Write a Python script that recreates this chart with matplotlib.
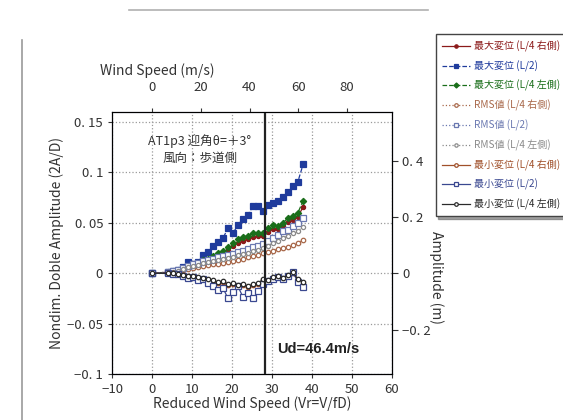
import numpy as np
import matplotlib
matplotlib.use("Agg")
import matplotlib.pyplot as plt
from matplotlib.lines import Line2D

plt.rcParams['font.family'] = ['Noto Sans CJK JP', 'DejaVu Sans']

# reduced wind speed Vr
vr = [0, 4.0, 5.3, 6.5, 7.8, 9.0, 10.3, 11.5, 12.8, 14.0, 15.3, 16.5, 17.8, 19.0, 20.3,
      21.5, 22.8, 24.0, 25.3, 26.5, 27.8, 29.0, 30.3, 31.5, 32.8, 34.0, 35.3, 36.5, 37.8]

max_r = [0, 0.001, 0.001, 0.002, 0.003, 0.005, 0.006, 0.008, 0.011, 0.012, 0.015, 0.018, 0.020,
         0.023, 0.027, 0.030, 0.032, 0.034, 0.036, 0.037, 0.037, 0.041, 0.044, 0.044, 0.047,
         0.051, 0.053, 0.056, 0.066]
max_c = [0, 0.001, 0.002, 0.003, 0.006, 0.011, 0.009, 0.011, 0.018, 0.021, 0.027, 0.031, 0.035,
         0.045, 0.040, 0.048, 0.054, 0.058, 0.067, 0.067, 0.062, 0.068, 0.070, 0.072, 0.076,
         0.081, 0.087, 0.091, 0.108]
max_l = [0, 0.001, 0.002, 0.003, 0.004, 0.006, 0.007, 0.010, 0.013, 0.014, 0.017, 0.020, 0.022,
         0.026, 0.030, 0.034, 0.036, 0.037, 0.040, 0.040, 0.040, 0.045, 0.048, 0.047, 0.050,
         0.055, 0.057, 0.060, 0.072]
rms_r = [0, 0.001, 0.001, 0.002, 0.003, 0.004, 0.005, 0.006, 0.007, 0.008, 0.009, 0.009, 0.010,
         0.011, 0.012, 0.013, 0.014, 0.016, 0.017, 0.018, 0.020, 0.021, 0.022, 0.024, 0.025,
         0.026, 0.028, 0.030, 0.033]
rms_c = [0, 0.001, 0.002, 0.003, 0.005, 0.007, 0.009, 0.010, 0.012, 0.013, 0.014, 0.016, 0.017,
         0.018, 0.019, 0.021, 0.022, 0.024, 0.026, 0.027, 0.029, 0.032, 0.035, 0.038, 0.042,
         0.043, 0.047, 0.050, 0.055]
rms_l = [0, 0.001, 0.001, 0.002, 0.004, 0.006, 0.007, 0.008, 0.010, 0.011, 0.012, 0.013, 0.014,
         0.015, 0.016, 0.018, 0.019, 0.020, 0.022, 0.023, 0.025, 0.027, 0.030, 0.032, 0.035,
         0.037, 0.040, 0.042, 0.046]
min_r = [0, 0.0, 0.0, -0.001, -0.002, -0.003, -0.004, -0.005, -0.006, -0.007, -0.008, -0.010,
         -0.009, -0.012, -0.011, -0.013, -0.012, -0.014, -0.012, -0.011, -0.007, -0.008, -0.005,
         -0.004, -0.006, -0.003, 0.0, -0.007, -0.011]
min_c = [0, 0.0, -0.001, -0.001, -0.003, -0.005, -0.004, -0.007, -0.006, -0.010, -0.013, -0.017,
         -0.015, -0.025, -0.019, -0.013, -0.024, -0.020, -0.025, -0.018, -0.011, -0.008, -0.006,
         -0.004, -0.006, -0.003, 0.001, -0.009, -0.014]
min_l = [0, 0.0, 0.0, -0.001, -0.002, -0.003, -0.003, -0.004, -0.005, -0.006, -0.007, -0.009,
         -0.008, -0.011, -0.010, -0.012, -0.011, -0.013, -0.011, -0.010, -0.006, -0.007, -0.004,
         -0.003, -0.005, -0.002, 0.001, -0.006, -0.009]

labels = ['最大変位 (L/4 右側)', '最大変位 (L/2)', '最大変位 (L/4 左側)',
          'RMS値 (L/4 右側)', 'RMS値 (L/2)', 'RMS値 (L/4 左側)',
          '最小変位 (L/4 右側)', '最小変位 (L/2)', '最小変位 (L/4 左側)']

y_ticks = [-0.1, -0.05, 0, 0.05, 0.1, 0.15]
y_ticklabels = ['−0. 1', '−0. 05', '0', '0. 05', '0. 1', '0. 15']
amp_ticks = [-0.2, 0, 0.2, 0.4]
amp_ticklabels = ['−0. 2', '0', '0. 2', '0. 4']
v_ticks = [0, 20, 40, 60, 80]

vr_to_v = 1.64     # V = Vr * f * D
amp_scale = 3.58   # amplitude (m) per unit 2A/D
ud = 46.4

fig = plt.figure(figsize=(5.63, 4.2), dpi=100)
ax = fig.add_axes([0.199, 0.1095, 0.497, 0.6238])

series = [max_r, max_c, max_l, rms_r, rms_c, rms_l, min_r, min_c, min_l]
colors = ['#8b1a1a', '#1f3b9c', '#1a6e1a', '#a8684a', '#6a78b0', '#8a8a8a',
          '#a0502a', '#3a4890', '#2a2a2a']
lstyles = ['-', '--', '--', ':', ':', ':', '-', '-', '-']
markers = ['o', 's', 'D', 'o', 's', 'o', 'o', 's', 'o']
mfill = [True, True, True, False, False, False, False, False, False]
msize = [3, 4.2, 3.2, 3.2, 4, 3, 3.2, 4, 3.2]

handles = []
for s, c, ls, m, f, ms, lab in zip(series, colors, lstyles, markers, mfill, msize, labels):
    h, = ax.plot(vr, s, color=c, ls=ls, lw=0.9, marker=m, ms=ms,
                 mfc=c if f else 'white', mec=c, mew=0.9, label=lab)
    handles.append(h)

ax.axvline(ud / vr_to_v, color='#222222', lw=1.6)

ax.set_xlim(-10, 60)
ax.set_ylim(-0.1, 0.16)
ax.set_xticks(range(-10, 61, 10))
ax.set_yticks(y_ticks)
ax.set_yticklabels(y_ticklabels)
ax.grid(True, color='#9a9a9a', ls=':', lw=0.9)
ax.tick_params(labelsize=9.5, length=3, colors='#333333')
for sp in ax.spines.values():
    sp.set_color('#55607a')
ax.set_xlabel('Reduced Wind Speed (Vr=V/fD)', fontsize=10, labelpad=0, color='#333333')
ax.set_ylabel('Nondim. Doble Amplitude (2A/D)', fontsize=10, color='#333333', labelpad=2)

ax_top = ax.twiny()
ax_top.set_xlim(-10 * vr_to_v, 60 * vr_to_v)
ax_top.set_xticks(v_ticks)
ax_top.tick_params(labelsize=9.5, length=3, pad=10, colors='#333333')
ax_top.set_xlabel('Wind Speed (m/s)', fontsize=10, color='#333333')
ax_top.xaxis.set_label_coords(0.16, 1.14)
for sp in ax_top.spines.values():
    sp.set_color('#55607a')

ax_r = ax.twinx()
ax_r.set_ylim(-0.1 * amp_scale, 0.16 * amp_scale)
ax_r.set_yticks(amp_ticks)
ax_r.set_yticklabels(amp_ticklabels)
ax_r.tick_params(labelsize=9.5, length=4, colors='#333333')
ax_r.set_ylabel('Amplitude (m)', fontsize=10, rotation=270, color='#333333')
ax_r.yaxis.set_label_coords(1.185, 0.37)

ax.text(-1, 0.131, 'AT1p3 迎角θ=＋3°', fontsize=9, va='center', color='#333333')
ax.text(2.7, 0.114, '風向：歩道側', fontsize=9, va='center', color='#333333')
ax.text(31.2, -0.0755, 'Ud=46.4m/s', fontsize=10.5, fontweight='bold', va='center',
        family='Liberation Sans', color='#222222')

leg = fig.legend(handles=handles, loc='upper left', bbox_to_anchor=(0.765, 0.93),
                 fontsize=7.2, frameon=True, fancybox=False, shadow=True,
                 edgecolor='#444444', handlelength=2.8, labelspacing=0.85,
                 borderpad=0.6, handletextpad=0.4, markerscale=0.8)
for t, c in zip(leg.get_texts(), colors):
    t.set_color(c)

# scanned page border lines
fig.add_artist(Line2D([0.039, 0.039], [0.0, 0.905], transform=fig.transFigure,
                      color='#9a9a9a', lw=1.2))
fig.add_artist(Line2D([0.23, 0.76], [0.977, 0.977], transform=fig.transFigure,
                      color='#b0b0b0', lw=1.2))

fig.savefig('out.png', dpi=100)
